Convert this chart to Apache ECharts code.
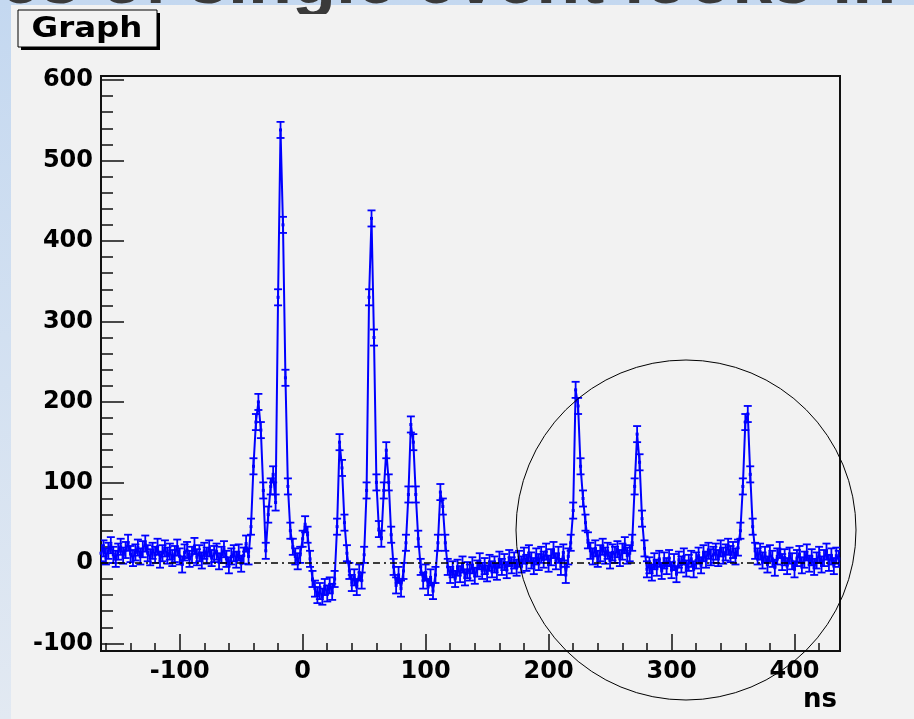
<!DOCTYPE html>
<html>
<head>
<meta charset="utf-8">
<title>Graph</title>
<script src="https://cdn.jsdelivr.net/npm/echarts@6/dist/echarts.min.js"></script>
<style>
  html, body { margin: 0; padding: 0; background: #f2f2f2; }
  #chart { width: 914px; height: 719px; }
</style>
</head>
<body>
<div id="chart"></div>
<script>
const startNs = -164;
const stepNs = 2;
const amplitude = [
  12, 18, 8, 15, 22, 10, 5, 14, 20, 9,
  16, 25, 11, 6, 13, 19, 8, 17, 24, 12,
  7, 15, 10, 20, 4, 12, 18, 9, 14, 6,
  11, 19, 8, -2, 13, 16, 5, 10, 21, 7,
  12, 3, 15, 9, 18, 6, 11, 14, 2, 10,
  17, 5, -3, 8, 12, 4, 13, -1, 9, 24,
  8, 45, 120, 175, 200, 165, 90, 15, 60, 95,
  110, 75, 330, 538, 420, 230, 95, 40, 20, 8,
  2, 10, 30, 48, 35, 5, -20, -32, -40, -35,
  -42, -30, -38, -28, -36, -20, 45, 150, 118, 50,
  12, -10, -25, -18, -30, -12, -22, 10, 90, 330,
  428, 280, 100, 42, 30, 90, 140, 100, 35, -5,
  -28, -15, -32, -10, 25, 85, 172, 150, 85, 30,
  -5, -22, -12, -30, -18, -35, -15, 25, 88, 70,
  25, -5, -15, -8, -20, -6, -14, -2, -18, -9,
  -12, -3, -16, -7, 2, -10, -4, -13, 0, -8,
  -2, -11, 4, -5, 1, -9, 6, -3, 3, -6,
  5, -2, 9, 0, 12, 3, -4, 8, 1, 10,
  4, 14, -1, 7, 16, 2, 10, -5, 13, -15,
  8, 25, 65, 215, 195, 120, 80, 50, 28, 15,
  8, 18, 5, 12, 20, 9, 15, 3, 13, 10,
  17, 6, 14, 22, 9, 12, 25, 95, 160, 125,
  55, 18, -8, -3, -12, 2, -6, 5, -10, 3,
  -4, 6, -9, 1, -14, 4, -2, 8, -7, 0,
  5, -8, 3, 9, -3, 12, 4, 15, 7, 10,
  14, 6, 18, 9, 13, 20, 11, 16, 8, 19,
  40, 95, 175, 185, 110, 45, 15, 8, 14, 3,
  10, -2, 12, 5, -6, 8, 16, 1, 7, -4,
  9, 2, -8, 6, 11, -3, 4, 13, -1, 7,
  -5, 3, 10, -2, 6, 14, 0, 8, -4, 9,
  5
];
const errY = 10;

const xRange = [-164, 437];
const yRange = [-109.5, 605];

const BLUE = '#0000ff';
const FONT = 'DejaVu Sans';

const points = amplitude.map((v, i) => [startNs + i * stepNs, v]);

const chart = echarts.init(document.getElementById('chart'));

chart.setOption({
    backgroundColor: '#f2f2f2',
    animation: false,

    grid: {
        left: 101, right: 74, top: 76, bottom: 68,
        show: true,
        borderColor: '#111',
        borderWidth: 2,
        backgroundColor: 'transparent',
        outerBoundsMode: 'none'
    },

    xAxis: {
        type: 'value',
        min: xRange[0], max: xRange[1],
        splitNumber: 6,
        axisLine: { onZero: false, lineStyle: { color: '#111', width: 2 } },
        axisTick: { inside: true, length: 17, lineStyle: { color: '#111', width: 1.5 } },
        minorTick: { show: true, splitNumber: 5, length: 8, lineStyle: { color: '#111', width: 1.5 } },
        splitLine: { show: false },
        axisLabel: {
            showMinLabel: false, showMaxLabel: false,
            margin: 9,
            color: '#000', fontFamily: FONT, fontWeight: 'bold', fontSize: 24
        }
    },

    yAxis: {
        type: 'value',
        min: yRange[0], max: yRange[1],
        splitNumber: 7,
        axisLine: { onZero: false, lineStyle: { color: '#111', width: 2 } },
        axisTick: { inside: true, length: 23, lineStyle: { color: '#111', width: 1.5 } },
        minorTick: { show: true, splitNumber: 5, length: 12, lineStyle: { color: '#111', width: 1.5 } },
        splitLine: { show: false },
        axisLabel: {
            showMinLabel: false, showMaxLabel: false,
            margin: 8,
            color: '#000', fontFamily: FONT, fontWeight: 'bold', fontSize: 24
        }
    },

    series: [
        {
            // dash-dot zero line behind the data
            type: 'line',
            data: [],
            z: 1,
            markLine: {
                silent: true,
                symbol: 'none',
                label: { show: false },
                lineStyle: { color: '#000', type: [7, 4, 2, 4], width: 1.5 },
                data: [{ yAxis: 0 }]
            }
        },
        {
            type: 'line',
            data: points,
            symbol: 'rect',
            symbolSize: 3,
            itemStyle: { color: BLUE },
            lineStyle: { color: BLUE, width: 2 },
            z: 3
        },
        {
            type: 'custom',
            data: points,
            clip: true,
            z: 4,
            renderItem: (params, api) => {
                const x = api.value(0), y = api.value(1);
                const top = api.coord([x, y + errY]);
                const bot = api.coord([x, y - errY]);
                const half = 4;
                const style = { stroke: BLUE, lineWidth: 1.8 };
                return {
                    type: 'group',
                    children: [
                        { type: 'line', shape: { x1: top[0], y1: top[1], x2: bot[0], y2: bot[1] }, style },
                        { type: 'line', shape: { x1: top[0] - half, y1: top[1], x2: top[0] + half, y2: top[1] }, style },
                        { type: 'line', shape: { x1: bot[0] - half, y1: bot[1], x2: bot[0] + half, y2: bot[1] }, style }
                    ]
                };
            }
        }
    ],

    graphic: [
        // slide background and the cut-off slide title
        {
            type: 'rect', z: -20, silent: true,
            shape: { x: 0, y: 0, width: 914, height: 719 },
            style: {
                fill: new echarts.graphic.LinearGradient(0, 0, 0, 1, [
                    { offset: 0, color: '#c4d8f0' },
                    { offset: 1, color: '#e2e9f2' }
                ])
            }
        },
        {
            type: 'rect', z: -19, silent: true,
            shape: { x: 11, y: 5, width: 903, height: 714 },
            style: { fill: '#f2f2f2' }
        },
        {
            type: 'text', z: -18, silent: true,
            style: {
                text: 'es of single event looks in',
                x: 0, y: -17,
                verticalAlign: 'middle',
                fill: '#3a3a3a',
                font: 'bold 72px "Liberation Sans"'
            }
        },
        {
            type: 'rect', z: -17, silent: true,
            shape: { x: 11, y: 14, width: 903, height: 55 },
            style: { fill: '#f2f2f2' }
        },
        // "Graph" title box with its shadow
        {
            type: 'rect', z: 10, silent: true,
            shape: { x: 21, y: 13, width: 139, height: 37 },
            style: { fill: '#000' }
        },
        {
            type: 'rect', z: 11, silent: true,
            shape: { x: 18, y: 10, width: 139, height: 37 },
            style: { fill: '#f2f2f2', stroke: '#000', lineWidth: 1 }
        },
        {
            type: 'text', z: 12, silent: true,
            x: 87, y: 29, scaleX: 1.12,
            style: {
                text: 'Graph',
                x: 0, y: 0,
                align: 'center', verticalAlign: 'middle',
                fill: '#000',
                font: 'bold 29px "DejaVu Sans"'
            }
        },
        // axis title
        {
            type: 'text', z: 12, silent: true,
            style: {
                text: 'ns',
                x: 837, y: 700,
                align: 'right', verticalAlign: 'middle',
                fill: '#000',
                font: 'bold 26px "DejaVu Sans"'
            }
        },
        // hand-drawn circle around the late peaks
        {
            type: 'circle', z: 20, silent: true,
            shape: { cx: 686, cy: 530, r: 170 },
            style: { fill: null, stroke: '#000', lineWidth: 1 }
        }
    ]
});
</script>
</body>
</html>
